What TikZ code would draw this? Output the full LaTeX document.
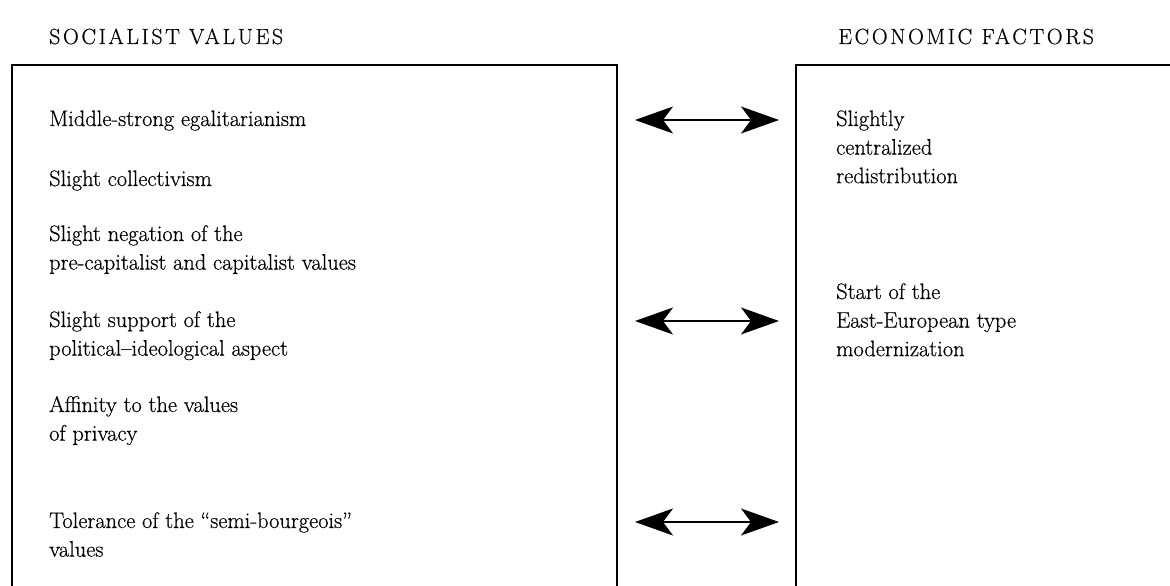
\documentclass[tikz,border=0pt]{standalone}
\usepackage{fontspec}
\usetikzlibrary{arrows.meta}
\setmainfont[FakeBold=0.5]{Latin Modern Roman}
\newfontfamily\capsfont[LetterSpace=12,FakeBold=0.5]{Latin Modern Roman}
% multi-line labels whose baseline is that of the first line
\newcommand\lines[1]{\begin{tabular}[t]{@{}l@{}}#1\end{tabular}}
\begin{document}
\begin{tikzpicture}[x=1bp,y=-1bp,
  frame/.style={line width=1.6bp},
  item/.style={anchor=base west,inner sep=0pt,font=\fontsize{22.5}{28.7}\selectfont},
  head/.style={anchor=base west,inner sep=0pt,font=\capsfont\fontsize{22}{26}\selectfont},
  link/.style={line width=1.4bp,{Stealth[length=38bp,width=27bp,inset=10bp]}-{Stealth[length=38bp,width=27bp,inset=10bp]}}]
\useasboundingbox (0,0) rectangle (1170,586);
\clip (0,0) rectangle (1170,586);
% column headings
\node[head] (hl) at (49,44) {SOCIALIST VALUES};
\node[head] (hr) at (838,44) {ECONOMIC FACTORS};
% open-bottomed frames
\draw[frame] (12,600) -- (12,65) -- (617,65) -- (617,600);
\draw[frame] (796,600) -- (796,65) -- (1180,65);
% socialist values
\node[item] (v1) at (49,126) {Middle-strong egalitarianism};
\node[item] (v2) at (49,186) {Slight collectivism};
\node[item] (v3) at (49,241) {\lines{Slight negation of the\\pre-capitalist and capitalist values}};
\node[item] (v4) at (49,327) {\lines{Slight support of the\\political--ideological aspect}};
\node[item] (v5) at (49,412) {\lines{Affinity to the values\\of privacy}};
\node[item] (v6) at (49,528) {\lines{Tolerance of the ``semi-bourgeois''\\values}};
% economic factors
\node[item] (e1) at (836,126) {\lines{Slightly\\centralized\\redistribution}};
\node[item] (e2) at (836,299) {\lines{Start of the\\East-European type\\modernization}};
% links
\coordinate (a1l) at (635,120); \coordinate (a1r) at (779,120);
\coordinate (a2l) at (635,321); \coordinate (a2r) at (779,321);
\coordinate (a3l) at (635,522); \coordinate (a3r) at (779,522);
\draw[link] (a1l) -- (a1r);
\draw[link] (a2l) -- (a2r);
\draw[link] (a3l) -- (a3r);
\end{tikzpicture}
\end{document}
